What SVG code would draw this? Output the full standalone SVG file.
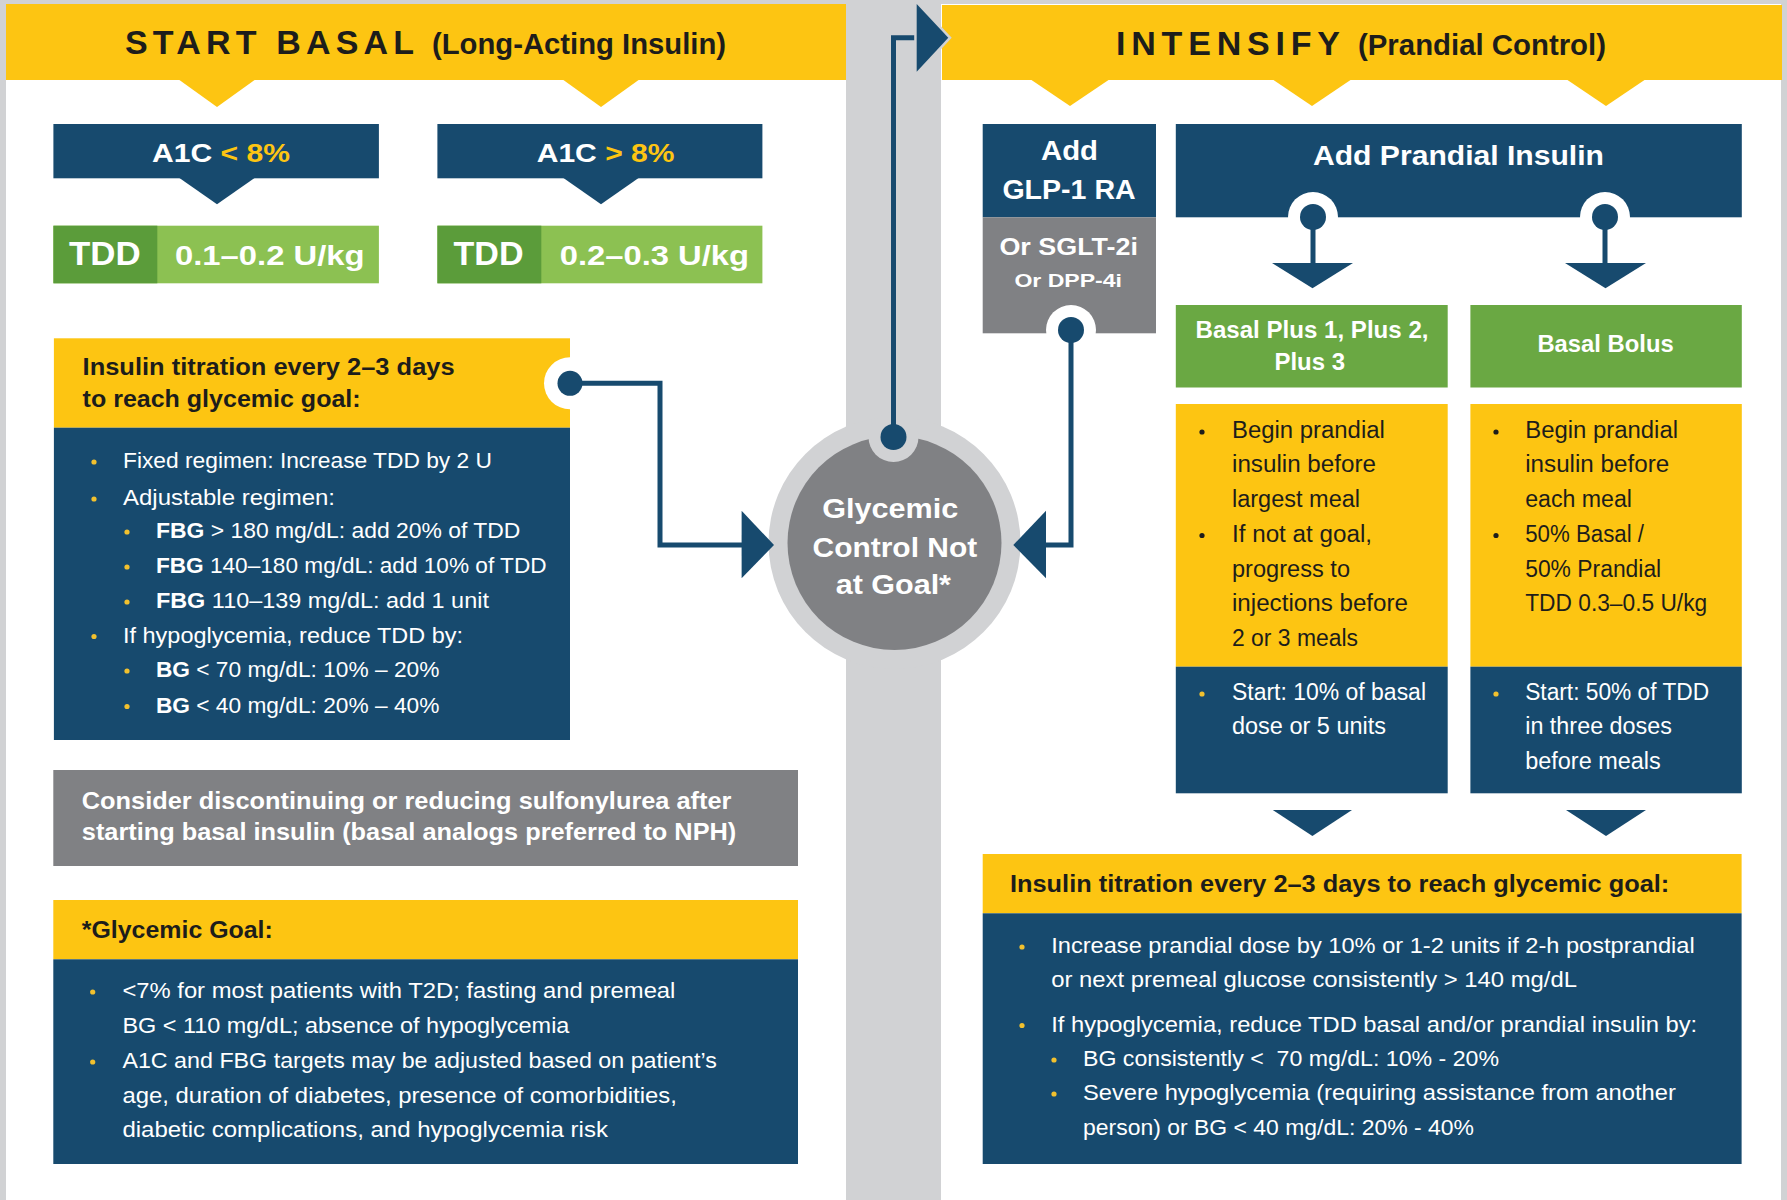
<svg xmlns="http://www.w3.org/2000/svg" width="1787" height="1200" viewBox="0 0 1787 1200">
<style>
text{font-family:"Liberation Sans",Arial,sans-serif}
.w{fill:#ffffff}
.k{fill:#1d1d1b}
.b{font-weight:bold}
.gold{fill:#fdc512}
.blue{fill:#174a6e}
.yel{fill:#fdc512}
.gry{fill:#808184}
.lg{fill:#d1d2d4}
.dot{fill:#f2c12e}
.kdot{fill:#1d1d1b}
.line{fill:none;stroke:#174a6e;stroke-width:5;stroke-linejoin:miter}
</style>
<rect x="0" y="0" width="1787" height="1200" class="lg"/>
<rect x="6" y="4" width="840" height="1196" fill="#ffffff"/>
<rect x="941" y="4" width="840" height="1196" fill="#ffffff"/>

<g id="left-header">
<rect x="6" y="4" width="840" height="76" class="yel"/>
<polygon points="178,79 256,79 217,107" class="yel"/>
<polygon points="562,79 640,79 601,107" class="yel"/>
<text x="125" y="54" class="k b" font-size="34" textLength="289" lengthAdjust="spacing">START BASAL</text>
<text x="432" y="54" class="k b" font-size="29" textLength="294" lengthAdjust="spacingAndGlyphs">(Long-Acting Insulin)</text>
</g>

<g id="a1c-low">
<rect x="53.4" y="124" width="325.5" height="54.3" class="blue"/>
<polygon points="178,177 256,177 217,204.3" class="blue"/>
<text x="152" y="161.7" class="w b" font-size="26" textLength="138" lengthAdjust="spacingAndGlyphs">A1C <tspan class="gold">&lt; 8%</tspan></text>
</g>
<g id="a1c-high">
<rect x="437.4" y="124" width="325" height="54.3" class="blue"/>
<polygon points="562,177 640,177 601,204.3" class="blue"/>
<text x="536.7" y="161.7" class="w b" font-size="26" textLength="137.8" lengthAdjust="spacingAndGlyphs">A1C <tspan class="gold">&gt; 8%</tspan></text>
</g>
<g id="tdd-low">
<rect x="53.4" y="225.7" width="325.5" height="57.6" fill="#8cc152"/>
<rect x="53.4" y="225.7" width="103.9" height="57.6" fill="#5b9c3a"/>
<text x="68.9" y="265" class="w b" font-size="33" textLength="71.7" lengthAdjust="spacingAndGlyphs">TDD</text>
<text x="175" y="265" class="w b" font-size="28" textLength="189.5" lengthAdjust="spacingAndGlyphs">0.1–0.2 U/kg</text>
</g>
<g id="tdd-high">
<rect x="437.4" y="225.7" width="325" height="57.6" fill="#8cc152"/>
<rect x="437.4" y="225.7" width="103.9" height="57.6" fill="#5b9c3a"/>
<text x="453.5" y="265" class="w b" font-size="33" textLength="70" lengthAdjust="spacingAndGlyphs">TDD</text>
<text x="559.7" y="265" class="w b" font-size="28" textLength="189.4" lengthAdjust="spacingAndGlyphs">0.2–0.3 U/kg</text>
</g>

<g id="left-titration">
<rect x="53.9" y="338.3" width="516.1" height="89.4" class="yel"/>
<rect x="53.9" y="427.7" width="516.1" height="312.3" class="blue"/>
<circle cx="570" cy="383.3" r="26" fill="#ffffff"/>
<text x="82.6" y="375" class="k b" font-size="23" textLength="372" lengthAdjust="spacingAndGlyphs">Insulin titration every 2–3 days</text>
<text x="82.6" y="407" class="k b" font-size="23" textLength="278" lengthAdjust="spacingAndGlyphs">to reach glycemic goal:</text>
<circle cx="94" cy="462" r="2.6" class="dot"/>
<circle cx="94" cy="499" r="2.6" class="dot"/>
<circle cx="127" cy="532" r="2.6" class="dot"/>
<circle cx="127" cy="567" r="2.6" class="dot"/>
<circle cx="127" cy="602" r="2.6" class="dot"/>
<circle cx="94" cy="636.5" r="2.6" class="dot"/>
<circle cx="127" cy="671" r="2.6" class="dot"/>
<circle cx="127" cy="706.5" r="2.6" class="dot"/>
<text x="123" y="468.3" class="w" font-size="22" textLength="369" lengthAdjust="spacingAndGlyphs">Fixed regimen: Increase TDD by 2 U</text>
<text x="123" y="505" class="w" font-size="22" textLength="212" lengthAdjust="spacingAndGlyphs">Adjustable regimen:</text>
<text x="155.9" y="538.3" class="w" font-size="22" textLength="364.5" lengthAdjust="spacingAndGlyphs"><tspan class="b">FBG</tspan> &gt; 180 mg/dL: add 20% of TDD</text>
<text x="155.9" y="573.3" class="w" font-size="22" textLength="390.7" lengthAdjust="spacingAndGlyphs"><tspan class="b">FBG</tspan> 140–180 mg/dL: add 10% of TDD</text>
<text x="155.9" y="608.3" class="w" font-size="22" textLength="333" lengthAdjust="spacingAndGlyphs"><tspan class="b">FBG</tspan> 110–139 mg/dL: add 1 unit</text>
<text x="123" y="642.7" class="w" font-size="22" textLength="340" lengthAdjust="spacingAndGlyphs">If hypoglycemia, reduce TDD by:</text>
<text x="155.9" y="677.3" class="w" font-size="22" textLength="283.5" lengthAdjust="spacingAndGlyphs"><tspan class="b">BG</tspan> &lt; 70 mg/dL: 10% – 20%</text>
<text x="155.9" y="712.7" class="w" font-size="22" textLength="283.5" lengthAdjust="spacingAndGlyphs"><tspan class="b">BG</tspan> &lt; 40 mg/dL: 20% – 40%</text>
</g>

<g id="sulfonylurea-note">
<rect x="53.3" y="770" width="744.7" height="96" class="gry"/>
<text x="81.8" y="809.3" class="w b" font-size="24" textLength="649.7" lengthAdjust="spacingAndGlyphs">Consider discontinuing or reducing sulfonylurea after</text>
<text x="81.8" y="840" class="w b" font-size="24" textLength="654.5" lengthAdjust="spacingAndGlyphs">starting basal insulin (basal analogs preferred to NPH)</text>
</g>

<g id="glycemic-goal">
<rect x="53.3" y="900" width="744.7" height="59.3" class="yel"/>
<rect x="53.3" y="959.3" width="744.7" height="204.7" class="blue"/>
<text x="81.8" y="938.3" class="k b" font-size="23" textLength="191" lengthAdjust="spacingAndGlyphs">*Glycemic Goal:</text>
<circle cx="92.7" cy="992" r="2.6" class="dot"/>
<circle cx="92.7" cy="1062" r="2.6" class="dot"/>
<text x="122.4" y="998.3" class="w" font-size="22" textLength="553" lengthAdjust="spacingAndGlyphs">&lt;7% for most patients with T2D; fasting and premeal</text>
<text x="122.4" y="1033.3" class="w" font-size="22" textLength="447" lengthAdjust="spacingAndGlyphs">BG &lt; 110 mg/dL; absence of hypoglycemia</text>
<text x="122.4" y="1068.3" class="w" font-size="22" textLength="594.5" lengthAdjust="spacingAndGlyphs">A1C and FBG targets may be adjusted based on patient’s</text>
<text x="122.4" y="1102.7" class="w" font-size="22" textLength="554.5" lengthAdjust="spacingAndGlyphs">age, duration of diabetes, presence of comorbidities,</text>
<text x="122.4" y="1136.7" class="w" font-size="22" textLength="485.5" lengthAdjust="spacingAndGlyphs">diabetic complications, and hypoglycemia risk</text>
</g>

<g id="right-header">
<rect x="942" y="5" width="840" height="75" class="yel"/>
<polygon points="1030,79 1110,79 1070,106" class="yel"/>
<polygon points="1272,79 1352,79 1312,106" class="yel"/>
<polygon points="1566,79 1646,79 1606,106" class="yel"/>
<text x="1116" y="55" class="k b" font-size="34" textLength="224" lengthAdjust="spacing">INTENSIFY</text>
<text x="1358" y="55" class="k b" font-size="29" textLength="248" lengthAdjust="spacingAndGlyphs">(Prandial Control)</text>
</g>

<g id="add-glp1">
<rect x="982.7" y="124" width="173.3" height="93.3" class="blue"/>
<rect x="982.7" y="217.3" width="173.3" height="116" class="gry"/>
<circle cx="1071" cy="330" r="25" fill="#ffffff"/>
<text x="1041" y="160" class="w b" font-size="27" textLength="57" lengthAdjust="spacingAndGlyphs">Add</text>
<text x="1002.4" y="199.3" class="w b" font-size="27" textLength="133.3" lengthAdjust="spacingAndGlyphs">GLP-1 RA</text>
<text x="999.4" y="255" class="w b" font-size="24" textLength="138.6" lengthAdjust="spacingAndGlyphs">Or SGLT-2i</text>
<text x="1014.4" y="287.3" class="w b" font-size="19" textLength="107.6" lengthAdjust="spacingAndGlyphs">Or DPP-4i</text>
</g>

<g id="add-prandial">
<rect x="1175.8" y="124" width="566" height="93.3" class="blue"/>
<circle cx="1313" cy="217" r="25" fill="#ffffff"/>
<circle cx="1605" cy="217" r="25" fill="#ffffff"/>
<text x="1313" y="165" class="w b" font-size="28" textLength="291" lengthAdjust="spacingAndGlyphs">Add Prandial Insulin</text>
</g>

<g id="basal-plus">
<rect x="1175.8" y="305" width="271.9" height="82.5" fill="#6aa843"/>
<text x="1195.5" y="338.3" class="w b" font-size="24" textLength="233" lengthAdjust="spacingAndGlyphs">Basal Plus 1, Plus 2,</text>
<text x="1274.4" y="370" class="w b" font-size="24" textLength="70.6" lengthAdjust="spacingAndGlyphs">Plus 3</text>
<rect x="1175.8" y="404" width="271.9" height="262.7" class="yel"/>
<rect x="1175.8" y="666.7" width="271.9" height="126.6" class="blue"/>
<circle cx="1202" cy="432" r="2.6" class="kdot"/>
<circle cx="1202" cy="535.5" r="2.6" class="kdot"/>
<text x="1232" y="438.3" class="k" font-size="23" textLength="152.8" lengthAdjust="spacingAndGlyphs">Begin prandial</text>
<text x="1232" y="472.3" class="k" font-size="23" textLength="144" lengthAdjust="spacingAndGlyphs">insulin before</text>
<text x="1232" y="506.7" class="k" font-size="23" textLength="128" lengthAdjust="spacingAndGlyphs">largest meal</text>
<text x="1232" y="541.7" class="k" font-size="23" textLength="140" lengthAdjust="spacingAndGlyphs">If not at goal,</text>
<text x="1232" y="576.7" class="k" font-size="23" textLength="118" lengthAdjust="spacingAndGlyphs">progress to</text>
<text x="1232" y="611" class="k" font-size="23" textLength="176" lengthAdjust="spacingAndGlyphs">injections before</text>
<text x="1232" y="645.7" class="k" font-size="23" textLength="126" lengthAdjust="spacingAndGlyphs">2 or 3 meals</text>
<circle cx="1202" cy="694" r="2.6" class="dot"/>
<text x="1232" y="700" class="w" font-size="23" textLength="194" lengthAdjust="spacingAndGlyphs">Start: 10% of basal</text>
<text x="1232" y="734" class="w" font-size="23" textLength="154" lengthAdjust="spacingAndGlyphs">dose or 5 units</text>
</g>

<g id="basal-bolus">
<rect x="1470.4" y="305" width="271.4" height="82.5" fill="#6aa843"/>
<text x="1537.4" y="351.7" class="w b" font-size="24" textLength="136.3" lengthAdjust="spacingAndGlyphs">Basal Bolus</text>
<rect x="1470.4" y="404" width="271.4" height="262.7" class="yel"/>
<rect x="1470.4" y="666.7" width="271.4" height="126.6" class="blue"/>
<circle cx="1496" cy="432" r="2.6" class="kdot"/>
<circle cx="1496" cy="535.5" r="2.6" class="kdot"/>
<text x="1525.2" y="438.3" class="k" font-size="23" textLength="152.8" lengthAdjust="spacingAndGlyphs">Begin prandial</text>
<text x="1525.2" y="472.3" class="k" font-size="23" textLength="144" lengthAdjust="spacingAndGlyphs">insulin before</text>
<text x="1525.2" y="506.7" class="k" font-size="23" textLength="106.8" lengthAdjust="spacingAndGlyphs">each meal</text>
<text x="1525.2" y="541.7" class="k" font-size="23" textLength="118.8" lengthAdjust="spacingAndGlyphs">50% Basal /</text>
<text x="1525.2" y="576.7" class="k" font-size="23" textLength="136" lengthAdjust="spacingAndGlyphs">50% Prandial</text>
<text x="1525.2" y="611" class="k" font-size="23" textLength="182" lengthAdjust="spacingAndGlyphs">TDD 0.3–0.5 U/kg</text>
<circle cx="1496" cy="694" r="2.6" class="dot"/>
<text x="1525.2" y="700" class="w" font-size="23" textLength="184" lengthAdjust="spacingAndGlyphs">Start: 50% of TDD</text>
<text x="1525.2" y="734" class="w" font-size="23" textLength="146.8" lengthAdjust="spacingAndGlyphs">in three doses</text>
<text x="1525.2" y="769" class="w" font-size="23" textLength="135.6" lengthAdjust="spacingAndGlyphs">before meals</text>
</g>

<g id="right-titration">
<rect x="982.7" y="854" width="758.9" height="59.3" class="yel"/>
<rect x="982.7" y="913.3" width="758.9" height="250.7" class="blue"/>
<text x="1010" y="892.3" class="k b" font-size="23" textLength="659.3" lengthAdjust="spacingAndGlyphs">Insulin titration every 2–3 days to reach glycemic goal:</text>
<circle cx="1022" cy="947" r="2.6" class="dot"/>
<circle cx="1022" cy="1025.5" r="2.6" class="dot"/>
<circle cx="1054" cy="1060" r="2.6" class="dot"/>
<circle cx="1054" cy="1094" r="2.6" class="dot"/>
<text x="1051.2" y="953.3" class="w" font-size="22" textLength="643.5" lengthAdjust="spacingAndGlyphs">Increase prandial dose by 10% or 1-2 units if 2-h postprandial</text>
<text x="1051.2" y="987.3" class="w" font-size="22" textLength="525.8" lengthAdjust="spacingAndGlyphs">or next premeal glucose consistently &gt; 140 mg/dL</text>
<text x="1051.2" y="1031.7" class="w" font-size="22" textLength="646" lengthAdjust="spacingAndGlyphs">If hypoglycemia, reduce TDD basal and/or prandial insulin by:</text>
<text x="1083" y="1066" class="w" font-size="22" textLength="416" lengthAdjust="spacingAndGlyphs" xml:space="preserve">BG consistently &lt;  70 mg/dL: 10% - 20%</text>
<text x="1083" y="1100" class="w" font-size="22" textLength="592.8" lengthAdjust="spacingAndGlyphs">Severe hypoglycemia (requiring assistance from another</text>
<text x="1083" y="1135" class="w" font-size="22" textLength="391" lengthAdjust="spacingAndGlyphs">person) or BG &lt; 40 mg/dL: 20% - 40%</text>
</g>

<g id="glycemic-not-at-goal">
<circle cx="894.5" cy="543" r="126" class="lg"/>
<circle cx="894.5" cy="543" r="107" class="gry"/>
<circle cx="893.5" cy="437" r="25" class="lg"/>
<text x="822.3" y="518.3" class="w" font-family="Open Sans, Liberation Sans, sans-serif" font-weight="600" font-size="27" textLength="136" lengthAdjust="spacingAndGlyphs">Glycemic</text>
<text x="812.5" y="556.7" class="w" font-family="Open Sans, Liberation Sans, sans-serif" font-weight="600" font-size="27" textLength="164.7" lengthAdjust="spacingAndGlyphs">Control Not</text>
<text x="835.7" y="594.3" class="w" font-family="Open Sans, Liberation Sans, sans-serif" font-weight="600" font-size="27" textLength="115.3" lengthAdjust="spacingAndGlyphs">at Goal*</text>
</g>

<g id="connectors">
<path class="line" d="M570,383.3 H660 V545 H745"/>
<polygon points="741.6,510.7 741.6,578.3 774,545" fill="#174a6e"/>
<circle cx="570" cy="383.3" r="12.5" fill="#174a6e"/>

<path class="line" d="M893.5,437 V37.7 H920"/>
<polygon points="916.7,4 916.7,71.7 948.3,37.7" fill="#174a6e" stroke="#d1d2d4" stroke-width="5" stroke-linejoin="miter"/>
<polygon points="916.7,4 916.7,71.7 948.3,37.7" fill="#174a6e"/>
<circle cx="893.5" cy="437" r="13" fill="#174a6e"/>

<path class="line" d="M1071,330 V545 H1043"/>
<polygon points="1046,510.7 1046,578.3 1013.3,545" fill="#174a6e"/>
<circle cx="1071" cy="330" r="13" fill="#174a6e"/>

<path class="line" d="M1313,217 V265"/>
<polygon points="1272,263 1353,263 1312.5,288.3" fill="#174a6e"/>
<circle cx="1313" cy="217" r="13" fill="#174a6e"/>
<path class="line" d="M1605,217 V265"/>
<polygon points="1565,263 1646,263 1605.5,288.3" fill="#174a6e"/>
<circle cx="1605" cy="217" r="13" fill="#174a6e"/>

<polygon points="1272.8,810 1352,810 1312.4,836" fill="#174a6e"/>
<polygon points="1566,810 1646,810 1606,836" fill="#174a6e"/>
</g>
</svg>
